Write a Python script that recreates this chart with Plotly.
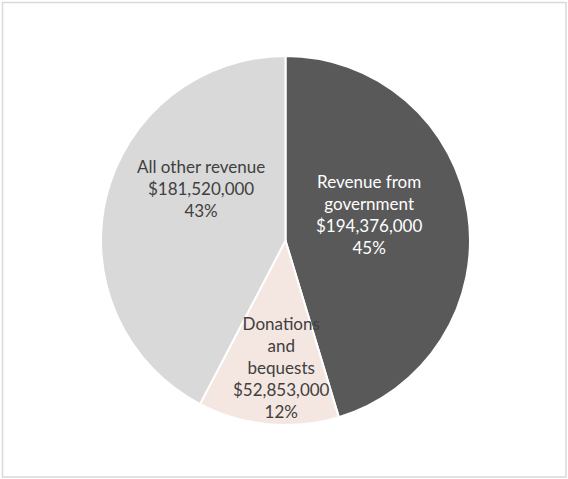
import plotly.graph_objects as go

# revenue sources, clockwise from 12 o'clock
labels = ["Revenue from government", "Donations and bequests", "All other revenue"]
label_lines = ["Revenue from<br>government", "Donations<br>and<br>bequests", "All other revenue"]
values = [194376000, 52853000, 181520000]
percent_labels = ["45%", "12%", "43%"]   # as printed on the chart (rounded to sum 100)
colors = ["#595959", "#F4E6E0", "#D9D9D9"]
text_colors = ["#FFFFFF", "#404040", "#404040"]
# label centres, in pixels of the 568x479 canvas
label_pos = [(369, 215), (281, 367), (201, 189)]

W, H = 568, 479

fig = go.Figure()
fig.add_trace(go.Pie(
    labels=labels,
    values=values,
    textinfo="none",
    marker=dict(colors=colors, line=dict(color="white", width=2)),
    sort=False,
    direction="clockwise",
    rotation=0,
    hoverinfo="label+value+percent",
    domain=dict(x=[101 / W, 470 / W], y=[1 - 425 / H, 1 - 56 / H]),
))

for l, v, p, c, (px_, py_) in zip(label_lines, values, percent_labels, text_colors, label_pos):
    fig.add_annotation(
        text=f"{l}<br>${v:,.0f}<br>{p}",
        x=px_ / W, y=1 - py_ / H, xref="paper", yref="paper",
        xanchor="center", yanchor="middle", showarrow=False,
        font=dict(family="Lato", size=17, color=c),
    )

# light grey frame around the chart area
fig.add_shape(type="rect", xref="paper", yref="paper",
              x0=2.5 / W, x1=566 / W, y0=1 - 477 / H, y1=1 - 2.5 / H,
              line=dict(color="#D9D9D9", width=1.5))

fig.update_layout(
    width=W, height=H,
    margin=dict(l=0, r=0, t=0, b=0),
    showlegend=False,
    paper_bgcolor="white",
)

fig.write_html("out.html", config={"displayModeBar": False},
               post_script="document.body.style.margin='0';")
